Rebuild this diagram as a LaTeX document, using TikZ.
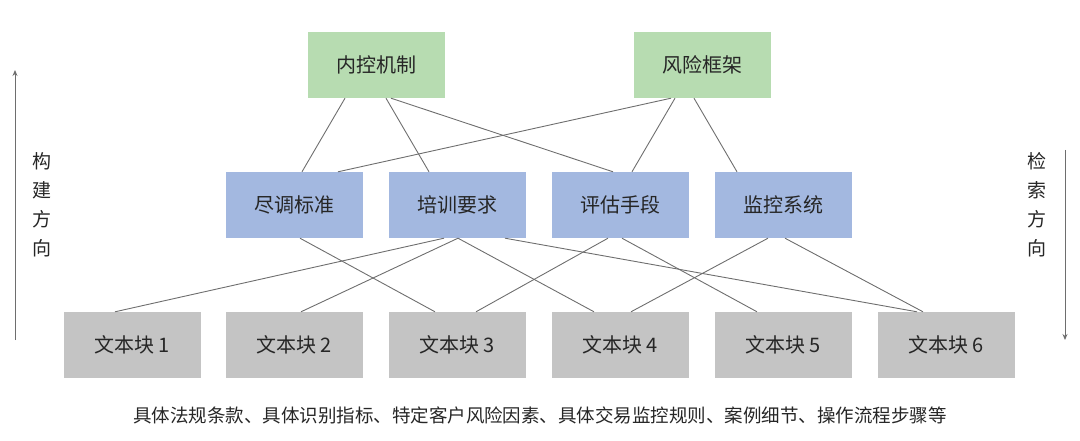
\documentclass[tikz,border=0pt]{standalone}
\usepackage{fontspec}
\usetikzlibrary{arrows.meta}
\setmainfont{Noto Sans CJK SC}
\begin{document}
\begin{tikzpicture}[x=1pt,y=-1pt,
 box/.style={minimum width=137pt,minimum height=66pt,inner sep=0pt,font=\fontsize{20}{24}\selectfont,text=black!85},
 g/.style={box,fill={rgb,255:red,183;green,220;blue,177}},
 b/.style={box,fill={rgb,255:red,163;green,184;blue,224}},
 k/.style={box,fill={rgb,255:red,196;green,196;blue,196}},
 ln/.style={draw={rgb,255:red,110;green,110;blue,110},line width=0.9pt}]
\useasboundingbox (0,0) rectangle (1080,441);
\node[g] (t1) at (376,65) {内控机制};
\node[g] (t2) at (702,65) {风险框架};
\node[b] (m1) at (294,205) {尽调标准};
\node[b] (m2) at (457,205) {培训要求};
\node[b] (m3) at (620,205) {评估手段};
\node[b] (m4) at (783,205) {监控系统};
\foreach \i/\x in {1/132,2/294,3/457,4/620,5/783,6/946}
  \node[k] (d\i) at (\x,345) {文本块 \i};
\draw[ln] ([xshift=-31]t1.south) -- ([xshift=8]m1.north);
\draw[ln] ([xshift=10]t1.south) -- ([xshift=-28]m2.north);
\draw[ln] ([xshift=15]t1.south) -- ([xshift=-7]m3.north);
\draw[ln] ([xshift=-31]t2.south) -- ([xshift=44]m1.north);
\draw[ln] ([xshift=-27]t2.south) -- ([xshift=12]m3.north);
\draw[ln] ([xshift=-8]t2.south) -- ([xshift=-46]m4.north);
\draw[ln] ([xshift=6]m1.south) -- ([xshift=-22]d3.north);
\draw[ln] ([xshift=-13]m2.south) -- ([xshift=-17]d1.north);
\draw[ln] ([xshift=1]m2.south) -- ([xshift=7]d2.north);
\draw[ln] ([xshift=1]m2.south) -- ([xshift=-26]d4.north);
\draw[ln] ([xshift=48]m2.south) -- ([xshift=-29]d6.north);
\draw[ln] ([xshift=-12]m3.south) -- ([xshift=19]d3.north);
\draw[ln] ([xshift=2]m3.south) -- ([xshift=-26]d5.north);
\draw[ln] ([xshift=-15]m4.south) -- ([xshift=11]d4.north);
\draw[ln] ([xshift=2]m4.south) -- ([xshift=-23]d6.north);
\coordinate (la) at (15,340); \coordinate (lb) at (15,70);
\draw[ln,-{Stealth[length=6pt,width=5pt]}] (la) -- (lb);
\coordinate (ra) at (1065,150); \coordinate (rb) at (1065,340);
\draw[ln,-{Stealth[length=6pt,width=5pt]}] (ra) -- (rb);
\node[font=\fontsize{19}{29}\selectfont,align=center,text=black!85] (lt) at (42,205) {构\\建\\方\\向};
\node[font=\fontsize{19}{29}\selectfont,align=center,text=black!85] (rt) at (1037,205) {检\\索\\方\\向};
\node[font=\fontsize{18.5}{22}\selectfont,text=black!85] (cap) at (540,415) {具体法规条款、具体识别指标、特定客户风险因素、具体交易监控规则、案例细节、操作流程步骤等};
\end{tikzpicture}
\end{document}
